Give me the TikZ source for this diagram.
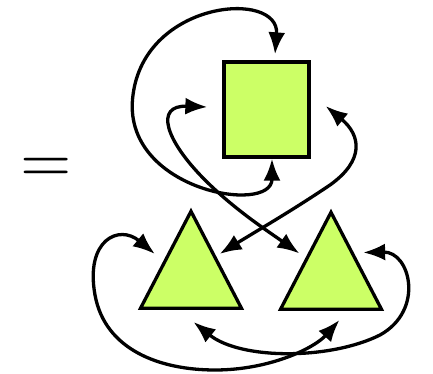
\documentclass[tikz,border=0pt]{standalone}
\usepackage{tikz}
\usetikzlibrary{arrows.meta,shapes.geometric}
\definecolor{vert}{HTML}{CCFF66}

\begin{document}
\begin{tikzpicture}[x=1pt,y=-1pt,
  carre/.style={rectangle,draw=black,fill=vert,line width=3.3pt,minimum width=85pt,minimum height=95pt,inner sep=0pt},
  tri/.style={isosceles triangle,isosceles triangle stretches,shape border rotate=90,draw=black,fill=vert,line width=3.3pt,minimum width=101pt,minimum height=97pt,inner sep=0pt},
  pointe/.tip={Latex[length=22pt,width=17pt]},
  fleche/.style={arrows={pointe-pointe},line width=3.3pt}]
  \useasboundingbox (0,0) rectangle (433,374);
  \node[scale=6.6] (egal) at (46.5,170) {$=$};
  \node[carre] (sq) at (266.5,109.5) {};
  \node[tri,anchor=apex] (tl) at (191,207) {};
  \node[tri,anchor=apex] (tr) at (331,208) {};
  % boucle du carre
  \draw[fleche] ([xshift=5.5pt]sq.south) .. controls +(0,57) and +(-13,95) .. (133,95)
    .. controls +(12,-95) and +(5,-65) .. ([xshift=8.5pt,yshift=6pt]sq.north);
  % carre -- triangles
  \draw[fleche] ([xshift=-15pt,yshift=2.5pt]sq.west) .. controls +(-53,-2) and +(-40,-40) .. (205,180)
    .. controls +(30,30) and +(-31,-22) .. ([xshift=-5pt,yshift=6pt]tr.left side);
  \draw[fleche] ([xshift=15pt,yshift=3.5pt]sq.east) .. controls +(35,29) and +(35,-25) .. (330,185)
    .. controls +(-40,27) and +(32,-20) .. ([xshift=2pt,yshift=4.5pt]tl.right side);
  % triangles entre eux
  \draw[fleche] ([xshift=-9.5pt,yshift=4.5pt]tl.left side) .. controls +(-36,-30) and +(-10,-55) .. (95,295)
    .. controls +(10,55) and +(-55,0) .. (215,370)
    .. controls +(55,0) and +(-25,28) .. ([xshift=8.5pt,yshift=-9pt]tr.lower side);
  \draw[fleche] ([xshift=5.5pt,yshift=7pt]tr.right side) .. controls +(47,-1) and +(45,-25) .. (380,335)
    .. controls +(-50,25) and +(47,38) .. ([xshift=2.5pt,yshift=-12pt]tl.lower side);
\end{tikzpicture}
\end{document}
